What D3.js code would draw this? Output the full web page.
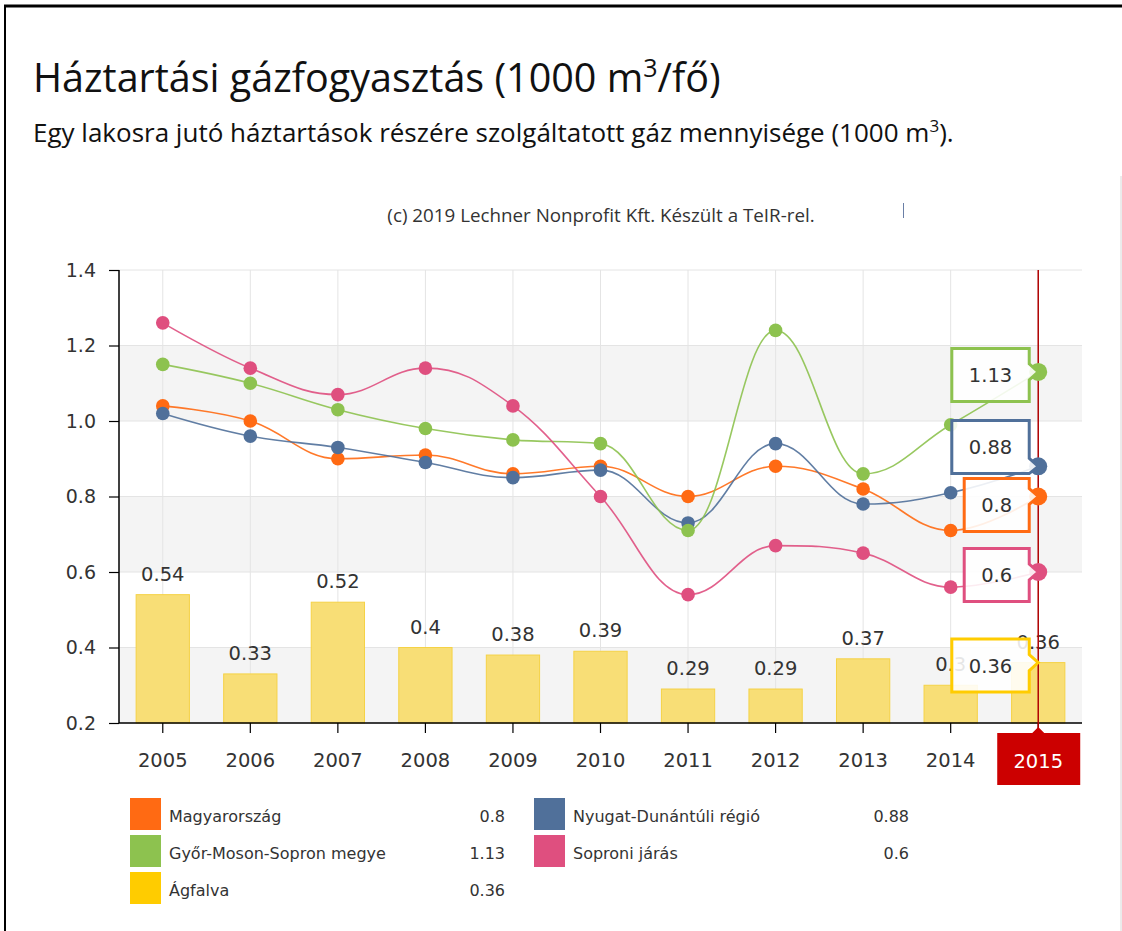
<!DOCTYPE html>
<html lang="hu">
<head>
<meta charset="utf-8">
<script src="https://cdn.jsdelivr.net/npm/d3@7"></script>
<style>
  html, body { margin: 0; padding: 0; background: #fff; }
  svg { display: block; }
</style>
</head>
<body>
<svg id="chart" width="1122" height="931"></svg>
<script>
// ---- data -------------------------------------------------------------
const years = [2005, 2006, 2007, 2008, 2009, 2010, 2011, 2012, 2013, 2014, 2015];
const magyarorszag = [1.04, 1.00, 0.90, 0.91, 0.86, 0.88, 0.80, 0.88, 0.82, 0.71, 0.80];
const nyugatDunantul = [1.02, 0.96, 0.93, 0.89, 0.85, 0.87, 0.73, 0.94, 0.78, 0.81, 0.88];
const gyorMosonSopron = [1.15, 1.10, 1.03, 0.98, 0.95, 0.94, 0.71, 1.24, 0.86, 0.99, 1.13];
const soproniJaras = [1.26, 1.14, 1.07, 1.14, 1.04, 0.80, 0.54, 0.67, 0.65, 0.56, 0.60];
const agfalva = [0.54, 0.33, 0.52, 0.40, 0.38, 0.39, 0.29, 0.29, 0.37, 0.30, 0.36];
const yTicks = [0.2, 0.4, 0.6, 0.8, 1.0, 1.2, 1.4];

const lineSeries = [
  { name: "Magyarország", values: magyarorszag, color: "#ff6a13" },
  { name: "Nyugat-Dunántúli régió", values: nyugatDunantul, color: "#50709a" },
  { name: "Győr-Moson-Sopron megye", values: gyorMosonSopron, color: "#8dc24f" },
  { name: "Soproni járás", values: soproniJaras, color: "#df4f7f" }
];
const barSeries = { name: "Ágfalva", values: agfalva, color: "#ffcc00" };
const selectedYear = 2015;

// ---- layout -----------------------------------------------------------
const svg = d3.select("#chart");
const plot = { left: 119, right: 1082, top: 270, bottom: 723 };
const fmt = v => String(+v.toFixed(2));

const x = d3.scaleBand().domain(years).range([plot.left, plot.right]);
const xBar = d3.scaleBand().domain(years).range([plot.left, plot.right])
  .paddingInner(0.38).paddingOuter(0.19);
const y = d3.scaleLinear().domain([0.2, 1.4]).range([plot.bottom, plot.top]);
const cx = yr => x(yr) + x.bandwidth() / 2;

svg.append("rect").attr("width", 1122).attr("height", 931).attr("fill", "#fff");

// page frame
svg.append("line").attr("x1", 4).attr("x2", 1122).attr("y1", 6).attr("y2", 6)
  .attr("stroke", "#000").attr("stroke-width", 3);
svg.append("line").attr("x1", 5).attr("x2", 5).attr("y1", 5).attr("y2", 931)
  .attr("stroke", "#000").attr("stroke-width", 2);
svg.append("line").attr("x1", 1121).attr("x2", 1121).attr("y1", 176).attr("y2", 931)
  .attr("stroke", "#d8d8d8").attr("stroke-width", 1);

// ---- heading ----------------------------------------------------------
const title = svg.append("text").attr("x", 33).attr("y", 92)
  .attr("font-family", "'Open Sans', sans-serif").attr("font-size", 39.5)
  .attr("fill", "#111");
title.append("tspan").text("Háztartási gázfogyasztás (1000 m");
title.append("tspan").attr("font-size", 25).attr("dy", -15).text("3");
title.append("tspan").attr("dy", 15).text("/fő)");

const sub = svg.append("text").attr("x", 33).attr("y", 142)
  .attr("font-family", "'Open Sans', sans-serif").attr("font-size", 26)
  .attr("fill", "#111");
sub.append("tspan").text("Egy lakosra jutó háztartások részére szolgáltatott gáz mennyisége (1000 m");
sub.append("tspan").attr("font-size", 17).attr("dy", -10).text("3");
sub.append("tspan").attr("dy", 10).text(").");

svg.append("text").attr("x", 601).attr("y", 222).attr("text-anchor", "middle")
  .attr("font-family", "'Open Sans', sans-serif").attr("font-size", 18.8)
  .attr("fill", "#333").text("(c) 2019 Lechner Nonprofit Kft. Készült a TeIR-rel.");
svg.append("line").attr("x1", 903.5).attr("x2", 903.5).attr("y1", 203).attr("y2", 218)
  .attr("stroke", "#6a7fa6").attr("stroke-width", 1);

// ---- plot background: alternating bands and grid ----------------------
const bands = yTicks.slice(0, -1).filter((d, i) => i % 2 === 0);
svg.append("g").selectAll("rect").data(bands).join("rect")
  .attr("x", plot.left).attr("width", plot.right - plot.left)
  .attr("y", d => y(d + 0.2)).attr("height", d => y(d) - y(d + 0.2))
  .attr("fill", "#f4f4f4");

svg.append("g").selectAll("line").data(yTicks).join("line")
  .attr("x1", plot.left).attr("x2", plot.right)
  .attr("y1", d => y(d)).attr("y2", d => y(d))
  .attr("stroke", "#e4e4e4").attr("stroke-width", 1);

svg.append("g").selectAll("line").data(years).join("line")
  .attr("x1", d => cx(d)).attr("x2", d => cx(d))
  .attr("y1", plot.top).attr("y2", plot.bottom)
  .attr("stroke", "#e4e4e4").attr("stroke-width", 1);

// ---- columns ----------------------------------------------------------
const barData = years.map((yr, i) => ({ yr, v: barSeries.values[i] }));
svg.append("g").selectAll("rect").data(barData).join("rect")
  .attr("x", d => xBar(d.yr) + 0.5).attr("width", xBar.bandwidth() - 1)
  .attr("y", d => y(d.v)).attr("height", d => y(0.2) - y(d.v))
  .attr("fill", "#f8de76").attr("stroke", "#f5d246").attr("stroke-width", 1);

svg.append("g").selectAll("text").data(barData).join("text")
  .attr("x", d => cx(d.yr)).attr("y", d => y(d.v) - 14)
  .attr("text-anchor", "middle")
  .attr("font-family", "'DejaVu Sans', Verdana, sans-serif").attr("font-size", 19.5)
  .attr("fill", "#333").text(d => fmt(d.v));

// ---- axes -------------------------------------------------------------
const yAxis = d3.axisLeft(y).tickValues(yTicks).tickSize(10).tickPadding(13)
  .tickFormat(d3.format(".1f"));
const gy = svg.append("g").attr("transform", `translate(${plot.left},0)`).call(yAxis);
gy.select(".domain").attr("stroke", "#000").attr("stroke-width", 1.5)
  .attr("d", `M0,${plot.top}V${plot.bottom}`);
gy.selectAll(".tick line").attr("stroke", "#000").attr("stroke-width", 1.2);
gy.selectAll(".tick text").attr("font-family", "'DejaVu Sans', Verdana, sans-serif")
  .attr("font-size", 19).attr("fill", "#333");

const xAxis = d3.axisBottom(x).tickSize(10).tickPadding(20).tickSizeOuter(0);
const gx = svg.append("g").attr("transform", `translate(0,${plot.bottom})`).call(xAxis);
gx.select(".domain").attr("stroke", "#000").attr("stroke-width", 1.5)
  .attr("d", `M${plot.left},0H${plot.right}`);
gx.selectAll(".tick line").attr("stroke", "#000").attr("stroke-width", 1.2);
gx.selectAll(".tick text").attr("font-family", "'DejaVu Sans', Verdana, sans-serif")
  .attr("font-size", 19.5).attr("fill", "#333")
  .attr("visibility", d => d === selectedYear ? "hidden" : null);

// crosshair on the selected year
const selX = cx(selectedYear);
svg.append("line").attr("x1", selX).attr("x2", selX)
  .attr("y1", plot.top).attr("y2", plot.bottom + 10)
  .attr("stroke", "#b00000").attr("stroke-width", 1.5);

// ---- spline lines -----------------------------------------------------
// Bezier spline with control arms of 0.4 of the step and no overshoot past
// neighbouring points at local extrema.
function splinePath(pts) {
  const sm = 1.5, den = sm + 1;
  let d = `M${pts[0][0]},${pts[0][1]}`;
  const rc = [];
  for (let i = 0; i < pts.length; i++) {
    const [px, py] = pts[i];
    let lcx = px, lcy = py;
    if (i > 0 && i < pts.length - 1) {
      const [lx, ly] = pts[i - 1], [nx, ny] = pts[i + 1];
      lcx = (sm * px + lx) / den; lcy = (sm * py + ly) / den;
      let rcx = (sm * px + nx) / den, rcy = (sm * py + ny) / den;
      const corr = ((rcy - lcy) * (rcx - px)) / (rcx - lcx) + py - rcy;
      lcy += corr; rcy += corr;
      if (lcy > ly && lcy > py) { lcy = Math.max(ly, py); rcy = 2 * py - lcy; }
      else if (lcy < ly && lcy < py) { lcy = Math.min(ly, py); rcy = 2 * py - lcy; }
      if (rcy > ny && rcy > py) { rcy = Math.max(ny, py); lcy = 2 * py - rcy; }
      else if (rcy < ny && rcy < py) { rcy = Math.min(ny, py); lcy = 2 * py - rcy; }
      rc[i] = [rcx, rcy];
    } else {
      rc[i] = [px, py];
    }
    if (i > 0) {
      const [ax, ay] = rc[i - 1];
      d += `C${ax},${ay} ${lcx},${lcy} ${px},${py}`;
    }
  }
  return d;
}

const gLines = svg.append("g");
lineSeries.forEach(s => {
  const pts = years.map((yr, i) => [cx(yr), y(s.values[i])]);
  gLines.append("path").attr("d", splinePath(pts))
    .attr("fill", "none").attr("stroke", s.color).attr("stroke-width", 1.6)
    .attr("stroke-opacity", 0.9);
});
lineSeries.forEach(s => {
  gLines.append("g").selectAll("circle").data(years.map((yr, i) => ({ yr, v: s.values[i] })))
    .join("circle")
    .attr("cx", d => cx(d.yr)).attr("cy", d => y(d.v))
    .attr("r", d => d.yr === selectedYear ? 9 : 6.8)
    .attr("fill", s.color);
});

// ---- tooltips for the selected year ------------------------------------
const selIdx = years.indexOf(selectedYear);
const tipFont = "'DejaVu Sans', Verdana, sans-serif";
const boxH = 53, gap = 5;
const tips = [...lineSeries, barSeries].map(s => ({
  color: s.color, v: s.values[selIdx], ay: y(s.values[selIdx])
}));
tips.forEach(t => { t.c = t.ay + 3; });
tips.sort((a, b) => a.ay - b.ay);
// push overlapping boxes apart, the upper one taking most of the shift
for (let it = 0; it < 60; it++) {
  for (let i = 1; i < tips.length; i++) {
    const need = boxH + gap - (tips[i].c - tips[i - 1].c);
    if (need > 0) { tips[i - 1].c -= need * 0.8; tips[i].c += need * 0.2; }
  }
}

const gTips = svg.append("g");
tips.forEach(t => {
  const g = gTips.append("g");
  const txt = g.append("text").attr("font-family", tipFont).attr("font-size", 19.5)
    .attr("fill", "#333").attr("text-anchor", "middle").text(fmt(t.v));
  const w = txt.node().getComputedTextLength() + 34;
  const x1 = selX - 9, x0 = x1 - w;
  const y0 = t.c - boxH / 2, y1 = t.c + boxH / 2;
  const a1 = Math.max(y0 + 2, Math.min(t.ay - 8, y1 - 10));
  const a2 = Math.min(y1, Math.max(t.ay + 8, y0 + 10));
  const path = `M${x0},${y0}H${x1}V${a1}L${selX},${t.ay}L${x1},${a2}V${y1}H${x0}Z`;
  g.insert("path", "text").attr("d", path)
    .attr("fill", "#fff").attr("fill-opacity", 0.88)
    .attr("stroke", t.color).attr("stroke-width", 3).attr("stroke-linejoin", "miter");
  txt.attr("x", (x0 + x1) / 2).attr("y", t.c + 7);
});

// selected category label
const lbl = svg.append("g");
lbl.append("path")
  .attr("d", `M${selX - 41},${plot.bottom + 10}H${selX - 6}L${selX},${plot.bottom + 4}L${selX + 6},${plot.bottom + 10}H${selX + 42}V${plot.bottom + 62}H${selX - 41}Z`)
  .attr("fill", "#cc0000");
lbl.append("text").attr("x", selX).attr("y", 768).attr("text-anchor", "middle")
  .attr("font-family", "'DejaVu Sans', Verdana, sans-serif").attr("font-size", 19.5)
  .attr("fill", "#fff").text(selectedYear);

// ---- legend -----------------------------------------------------------
const legendItems = [lineSeries[0], lineSeries[1], lineSeries[2], lineSeries[3], barSeries];
const colX = [130, 534], valX = [505, 909], rowY = [798, 835, 872];
const gLeg = svg.append("g").attr("font-family", "'DejaVu Sans', Verdana, sans-serif")
  .attr("font-size", 16).attr("fill", "#333");
legendItems.forEach((s, i) => {
  const c = i % 2, r = Math.floor(i / 2);
  const top = rowY[r];
  gLeg.append("rect").attr("x", colX[c]).attr("y", top).attr("width", 31).attr("height", 32)
    .attr("fill", s.color);
  gLeg.append("text").attr("x", colX[c] + 39).attr("y", top + 24).text(s.name);
  gLeg.append("text").attr("x", valX[c]).attr("y", top + 24).attr("text-anchor", "end")
    .text(fmt(s.values[selIdx]));
});
</script>
</body>
</html>
